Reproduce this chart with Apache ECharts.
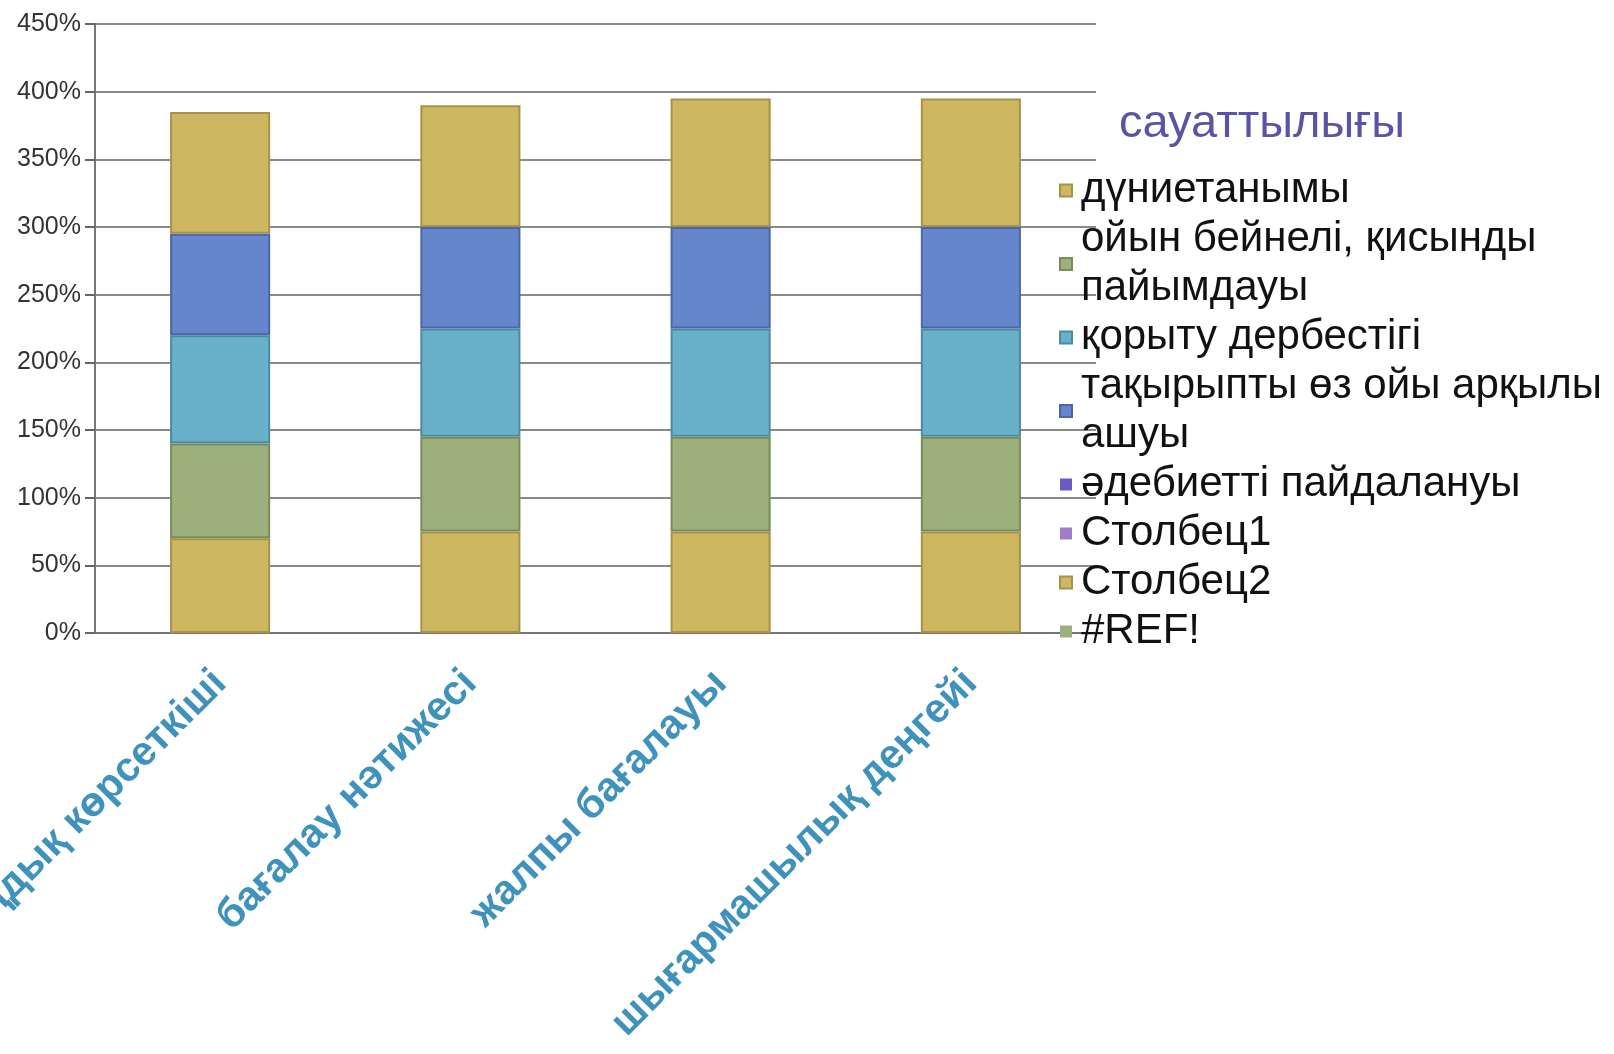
<!DOCTYPE html>
<html>
<head>
<meta charset="utf-8">
<script src="https://cdn.jsdelivr.net/npm/echarts@6/dist/echarts.min.js"></script>
<style>
html,body{margin:0;padding:0;background:#fff;}
#main{width:1614px;height:1054px;}
</style>
</head>
<body>
<div id="main"></div>
<script>
const categories = ['Шапшаңдық көрсеткіші', 'бағалау нәтижесі', 'жалпы бағалауы', 'шығармашылық деңгейі'];
const legendTitle = 'сауаттылығы';
const yTicks = [0, 50, 100, 150, 200, 250, 300, 350, 400, 450];

const dunietanymy = [70, 75, 75, 75];
const oiynBeineli = [70, 70, 70, 70];
const qorytuDerbestigi = [80, 80, 80, 80];
const taqyryptyAshuy = [75, 75, 75, 75];
const adebiettiPaidalanuy = [0, 0, 0, 0];
const stolbets1 = [0, 0, 0, 0];
const stolbets2 = [90, 90, 95, 95];
const refErr = [0, 0, 0, 0];

const seriesDefs = [
  {name: 'дүниетанымы', data: dunietanymy, color: '#cdb761', border: '#a8924a'},
  {name: 'ойын бейнелі, қисынды\nпайымдауы', data: oiynBeineli, color: '#9bb07b', border: '#7a8c5c'},
  {name: 'қорыту дербестігі', data: qorytuDerbestigi, color: '#69b0c9', border: '#4f8aa0'},
  {name: 'тақырыпты өз ойы арқылы\nашуы', data: taqyryptyAshuy, color: '#6585cc', border: '#4b68a4'},
  {name: 'әдебиетті пайдалануы', data: adebiettiPaidalanuy, color: '#6a5bc4', border: '#6a5bc4'},
  {name: 'Столбец1', data: stolbets1, color: '#a07dc8', border: '#a07dc8'},
  {name: 'Столбец2', data: stolbets2, color: '#cdb761', border: '#a8924a'},
  {name: '#REF!', data: refErr, color: '#9bb07b', border: '#9bb07b'}
];

const FONT = 'Arial, "Liberation Sans", sans-serif';
const chart = echarts.init(document.getElementById('main'));
chart.setOption({
  animation: false,
  backgroundColor: '#ffffff',
  title: {
    text: legendTitle,
    left: 1119,
    top: 101,
    padding: 0,
    textStyle: {fontFamily: FONT, fontSize: 47, fontWeight: 'normal', color: '#5a54a6'}
  },
  legend: {
    orient: 'vertical',
    left: 1059,
    top: 166,
    padding: 0,
    itemGap: 0,
    itemWidth: 12,
    itemHeight: 12,
    icon: 'rect',
    textStyle: {fontFamily: FONT, fontSize: 42, lineHeight: 49, color: '#111', padding: [0, 0, 0, 4]},
    data: seriesDefs.map(s => s.name)
  },
  grid: {left: 95, right: 518, top: 24, bottom: 421, containLabel: false, outerBoundsMode: 'none'},
  xAxis: {
    type: 'category',
    data: categories,
    axisLine: {lineStyle: {color: '#777', width: 2}},
    axisTick: {length: 9, lineStyle: {color: '#666', width: 2}},
    axisLabel: {
      interval: 0,
      rotate: 45,
      margin: 44,
      color: '#3f92bb',
      fontFamily: FONT,
      fontSize: 41,
      fontWeight: 'bold'
    }
  },
  yAxis: {
    type: 'value',
    min: 0,
    max: 450,
    interval: 50,
    axisLine: {show: true, lineStyle: {color: '#777', width: 2}},
    axisTick: {show: true, length: 10, lineStyle: {color: '#666', width: 2}},
    splitLine: {lineStyle: {color: '#8a8a8a', width: 2}},
    axisLabel: {
      margin: 14,
      color: '#333',
      fontFamily: FONT,
      fontSize: 25,
      formatter: function (v) { return yTicks.indexOf(v) >= 0 ? v + '%' : ''; }
    }
  },
  series: seriesDefs.map(s => ({
    name: s.name,
    type: 'bar',
    stack: 'total',
    barWidth: '40%',
    data: s.data,
    itemStyle: {color: s.color, borderColor: s.border, borderWidth: s.data.some(v => v > 0) ? 2 : 0}
  }))
});
</script>
</body>
</html>
